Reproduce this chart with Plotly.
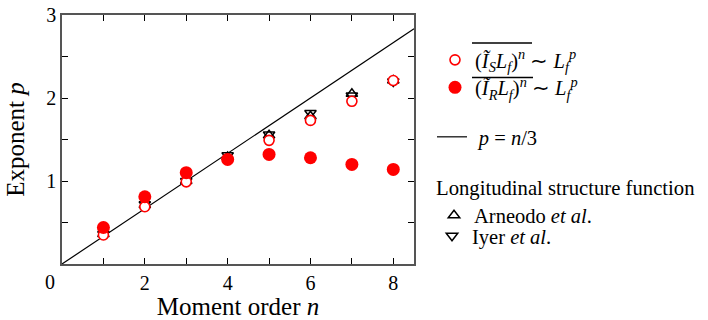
import plotly.graph_objects as go

# Moment orders
n = [1, 2, 3, 4, 5, 6, 7, 8]

# Scaling exponents p
p_IS = [0.35, 0.69, 0.99, 1.26, 1.49, 1.73, 1.96, 2.21]
p_IR = [0.44, 0.81, 1.10, 1.26, 1.32, 1.28, 1.20, 1.14]

# Longitudinal structure function exponents from the literature
p_arneodo = [0.36, 0.71, 1.00, 1.29, 1.55, 1.78, 2.05, 2.21]
p_iyer = [0.36, 0.72, 1.00, 1.31, 1.56, 1.82, 2.03, 2.20]

# Reference line p = n/3 over the full x range
line_n = [0.0, 8.5]
line_p = [v / 3 for v in line_n]

x_ticks = [1, 2, 3, 4, 5, 6, 7, 8]
x_ticktext = ["", "2", "", "4", "", "6", "", "8"]
y_ticks = [0.5, 1.0, 1.5, 2.0, 2.5, 3.0]
y_ticktext = ["", "1", "", "2", "", "3"]

SERIF = "Liberation Serif, Times New Roman, serif"
RED = "#ff0000"

label_IS = ('(<i>Ĩ</i><sub><i>S</i></sub><i>L</i><sub><i>f</i></sub>)<sup><i>n</i></sup>'
            ' ∼ <i>L</i><sub><i>f</i></sub><sup><i>p</i></sup>')
label_IR = ('(<i>Ĩ</i><sub><i>R</i></sub><i>L</i><sub><i>f</i></sub>)<sup><i>n</i></sup>'
            ' ∼ <i>L</i><sub><i>f</i></sub><sup><i>p</i></sup>')

fig = go.Figure()

fig.add_trace(go.Scatter(
    x=n, y=p_arneodo, mode="markers", name="Arneodo <i>et al</i>.",
    marker=dict(symbol="triangle-up-open", size=10, color="black",
                line=dict(width=1.5, color="black")),
    legend="legend4"))
fig.add_trace(go.Scatter(
    x=n, y=p_iyer, mode="markers", name="Iyer <i>et al</i>.",
    marker=dict(symbol="triangle-down-open", size=10, color="black",
                line=dict(width=1.5, color="black")),
    legend="legend5"))
fig.add_trace(go.Scatter(
    x=line_n, y=line_p, mode="lines", name="\u2004<i>p</i> = <i>n</i>/3",
    line=dict(color="black", width=1.2),
    legend="legend3"))
fig.add_trace(go.Scatter(
    x=n, y=p_IS, mode="markers", name=label_IS,
    marker=dict(symbol="circle", size=10, color="white",
                line=dict(width=1.6, color=RED)),
    legend="legend"))
fig.add_trace(go.Scatter(
    x=n, y=p_IR, mode="markers", name=label_IR,
    marker=dict(symbol="circle", size=13, color=RED,
                line=dict(width=0, color=RED)),
    legend="legend2"))

# Plot area in pixels: x 62..414, y 15..264
L, R, T, B = 62, 414, 15, 264
W, H = 708, 320


def px_x(px):
    return (px - L) / (R - L)


def px_y(py):
    return (B - py) / (B - T)


legend_common = dict(font=dict(family=SERIF, size=20.5, color="black"),
                     bgcolor="rgba(0,0,0,0)", borderwidth=0,
                     xanchor="left", yanchor="middle")

axis_common = dict(showgrid=False, zeroline=False, showline=True,
                   linecolor="#555555", linewidth=1.6, mirror="ticks",
                   ticks="inside", ticklen=6, tickwidth=1, tickcolor="black",
                   automargin=False,
                   tickfont=dict(family=SERIF, size=20, color="black"))

fig.update_layout(
    width=W, height=H,
    margin=dict(l=L, r=W - R, t=T, b=H - B, autoexpand=False),
    paper_bgcolor="white", plot_bgcolor="white",
    font=dict(family=SERIF, size=20, color="black"),
    xaxis=dict(range=[0, 8.5], tickvals=x_ticks, ticktext=x_ticktext,
               title=dict(text="Moment order <i>n</i>",
                          font=dict(family=SERIF, size=25), standoff=8),
               **axis_common),
    yaxis=dict(range=[0, 3], tickvals=y_ticks, ticktext=y_ticktext,
               title=dict(text="Exponent <i>p</i>",
                          font=dict(family=SERIF, size=25), standoff=14),
               **axis_common),
    legend=dict(x=px_x(435), y=px_y(60), **legend_common),
    legend2=dict(x=px_x(435), y=px_y(87.5), **legend_common),
    legend3=dict(x=px_x(432), y=px_y(137), **legend_common),
    legend4=dict(x=px_x(434), y=px_y(202),
                 title=dict(text="Longitudinal structure function",
                            font=dict(family=SERIF, size=20.7)),
                 **legend_common),
    legend5=dict(x=px_x(432), y=px_y(236), **legend_common),
    showlegend=True,
)

# Overbars above the averaged quantities in the first two legend entries
for y0, x0, x1 in [(43, 472, 532), (77.5, 472, 533)]:
    fig.add_shape(type="line", xref="paper", yref="paper",
                  x0=px_x(x0), x1=px_x(x1), y0=px_y(y0), y1=px_y(y0),
                  line=dict(color="black", width=1.5))

# Shared origin label at the lower-left corner
fig.add_annotation(x=0, y=0, xref="x", yref="y", text="0", showarrow=False,
                   xanchor="right", yanchor="top", xshift=-5, yshift=-5,
                   font=dict(family=SERIF, size=20, color="black"))

fig.write_html("out.html")
